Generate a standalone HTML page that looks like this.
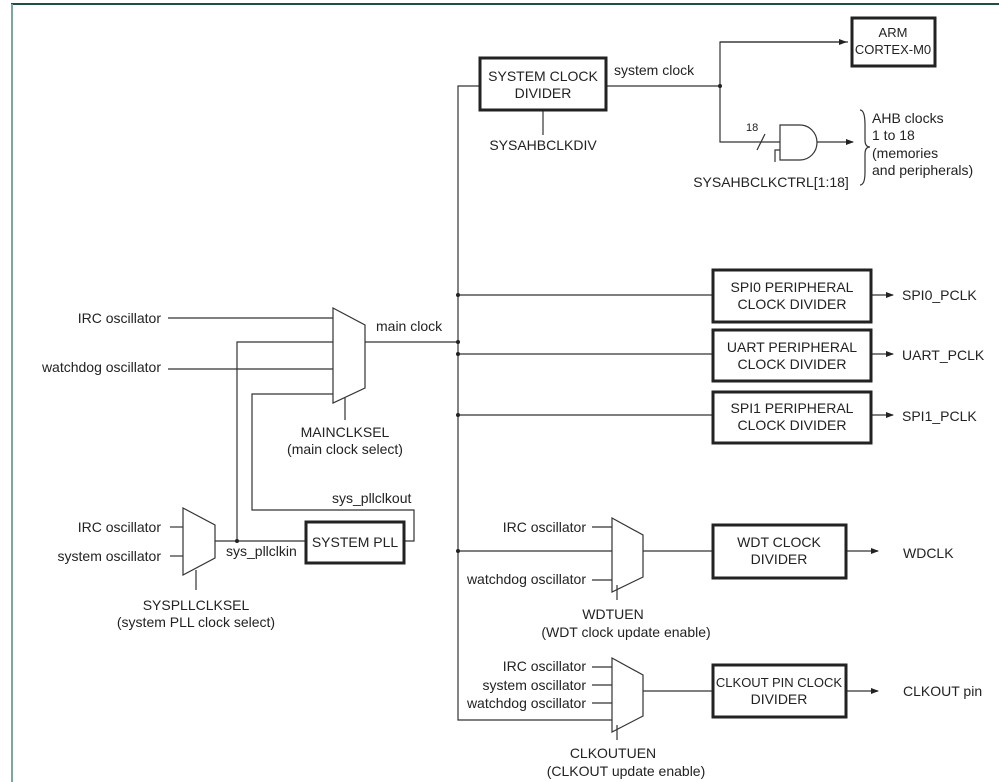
<!DOCTYPE html>
<html><head><meta charset="utf-8"><style>
html,body{margin:0;padding:0;background:#fff}
svg{display:block}
text{font-family:"Liberation Sans",Arial,sans-serif;font-size:14px;fill:#222}
.b{font-size:13px}
</style></head><body>
<svg width="999" height="782" viewBox="0 0 999 782" xmlns="http://www.w3.org/2000/svg">
<defs><marker id="a" markerWidth="8" markerHeight="8" refX="7" refY="4" orient="auto" markerUnits="userSpaceOnUse"><path d="M0,1 L8,4 L0,7 z" fill="#222"/></marker></defs>
<rect x="0" y="0" width="999" height="782" fill="#fff"/>
<line x1="11" y1="4" x2="999" y2="4" stroke="#1f4f3f" stroke-width="2"/>
<line x1="12" y1="4" x2="12" y2="782" stroke="#7aa89a" stroke-width="2"/>
<g stroke="#333" stroke-width="1.2" fill="none">
<polyline points="479,86 458,86 458,720 612,720"/>
<line x1="606" y1="86" x2="720" y2="86"/>
<polyline points="848,42 720,42 720,142 780,142" />
<line x1="720" y1="42" x2="846" y2="42" marker-end="url(#a)"/>
<line x1="757" y1="150" x2="765" y2="134"/>
<polyline points="775,162 775,150 780,150"/>
<path d="M780,125 L800,125 A17,17.5 0 0 1 800,160 L780,160 Z"/>
<line x1="817" y1="142" x2="853" y2="142" marker-end="url(#a)"/>
<path d="M860,110 Q865,110 865,125 L865,140 Q865,147 870,147 Q865,147 865,154 L865,172 Q865,185 860,185"/>
<line x1="543" y1="111" x2="543" y2="135"/>
<line x1="458" y1="295" x2="712" y2="295"/>
<line x1="458" y1="354" x2="712" y2="354"/>
<line x1="458" y1="415" x2="712" y2="415"/>
<line x1="871" y1="295" x2="893" y2="295" marker-end="url(#a)"/>
<line x1="871" y1="354" x2="893" y2="354" marker-end="url(#a)"/>
<line x1="871" y1="415" x2="893" y2="415" marker-end="url(#a)"/>
<path d="M333,308 L365,325 L365,388 L333,403 Z" fill="#fff"/>
<line x1="168" y1="318" x2="333" y2="318"/>
<line x1="168" y1="369" x2="333" y2="369"/>
<polyline points="333,342 237,342 237,541"/>
<polyline points="333,394 252,394 252,510 414,510 414,541 404,541"/>
<line x1="365" y1="342" x2="458" y2="342"/>
<line x1="345" y1="398" x2="345" y2="420"/>
<path d="M183,508 L215,525 L215,558 L183,575 Z" fill="#fff"/>
<line x1="170" y1="527" x2="183" y2="527"/>
<line x1="170" y1="556" x2="183" y2="556"/>
<line x1="215" y1="541" x2="305" y2="541"/>
<line x1="196" y1="570" x2="196" y2="590"/>
<path d="M612,518 L643,535 L643,577 L612,592 Z" fill="#fff"/>
<line x1="458" y1="551" x2="612" y2="551"/>
<line x1="592" y1="527" x2="612" y2="527"/>
<line x1="592" y1="580" x2="612" y2="580"/>
<line x1="643" y1="551" x2="712" y2="551"/>
<line x1="846" y1="551" x2="878" y2="551" marker-end="url(#a)"/>
<line x1="617" y1="585" x2="617" y2="600"/>
<path d="M612,658 L643,675 L643,716 L612,732 Z" fill="#fff"/>
<line x1="592" y1="667" x2="612" y2="667"/>
<line x1="592" y1="685" x2="612" y2="685"/>
<line x1="592" y1="703" x2="612" y2="703"/>
<line x1="643" y1="691" x2="712" y2="691"/>
<line x1="846" y1="691" x2="878" y2="691" marker-end="url(#a)"/>
<line x1="617" y1="725" x2="617" y2="740"/>
</g>
<g stroke="#222" stroke-width="3" fill="#fff">
<rect x="480" y="58" width="126" height="52"/>
<rect x="852" y="18" width="83" height="48"/>
<rect x="713" y="270" width="158" height="52"/>
<rect x="713" y="330" width="158" height="51"/>
<rect x="713" y="392" width="158" height="51"/>
<rect x="306" y="522" width="98" height="41"/>
<rect x="713" y="525" width="133" height="53"/>
<rect x="713" y="665" width="133" height="52"/>
</g>
<g fill="#222">
<circle cx="720" cy="86" r="2"/><circle cx="458" cy="295" r="2"/><circle cx="458" cy="342" r="2"/>
<circle cx="458" cy="354" r="2"/><circle cx="458" cy="415" r="2"/><circle cx="458" cy="551" r="2"/>
<circle cx="237" cy="541" r="2"/>
</g>
<g text-anchor="middle">
<text x="543" y="81">SYSTEM CLOCK</text><text x="543" y="98">DIVIDER</text>
<text class="b" x="893" y="37">ARM</text><text class="b" x="893" y="54">CORTEX-M0</text>
<text x="792" y="292">SPI0 PERIPHERAL</text><text x="792" y="309">CLOCK DIVIDER</text>
<text x="792" y="352">UART PERIPHERAL</text><text x="792" y="369">CLOCK DIVIDER</text>
<text x="792" y="413">SPI1 PERIPHERAL</text><text x="792" y="430">CLOCK DIVIDER</text>
<text x="355" y="547">SYSTEM PLL</text>
<text x="779" y="547">WDT CLOCK</text><text x="779" y="564">DIVIDER</text>
<text class="b" x="779" y="687">CLKOUT PIN CLOCK</text><text x="779" y="704">DIVIDER</text>
<text x="543" y="150">SYSAHBCLKDIV</text>
<text x="771" y="187">SYSAHBCLKCTRL[1:18]</text>
<text x="345" y="437">MAINCLKSEL</text><text x="345" y="454">(main clock select)</text>
<text x="196" y="610">SYSPLLCLKSEL</text><text x="196" y="627">(system PLL clock select)</text>
<text x="613" y="619">WDTUEN</text><text x="626" y="637">(WDT clock update enable)</text>
<text x="613" y="758">CLKOUTUEN</text><text x="626" y="776">(CLKOUT update enable)</text>
</g>
<g text-anchor="end">
<text x="161" y="323">IRC oscillator</text>
<text x="161" y="372">watchdog oscillator</text>
<text x="161" y="532">IRC oscillator</text>
<text x="161" y="561">system oscillator</text>
<text x="586" y="532">IRC oscillator</text>
<text x="586" y="584">watchdog oscillator</text>
<text x="586" y="671">IRC oscillator</text>
<text x="586" y="690">system oscillator</text>
<text x="586" y="708">watchdog oscillator</text>
</g>
<text x="614" y="75">system clock</text>
<text x="746" y="131" style="font-size:11px">18</text>
<text x="872" y="123">AHB clocks</text>
<text x="872" y="140">1 to 18</text>
<text x="872" y="158">(memories</text>
<text x="872" y="175">and peripherals)</text>
<text x="902" y="300">SPI0_PCLK</text>
<text x="902" y="360">UART_PCLK</text>
<text x="902" y="421">SPI1_PCLK</text>
<text x="376" y="331">main clock</text>
<text x="332" y="503">sys_pllclkout</text>
<text x="226" y="556">sys_pllclkin</text>
<text x="903" y="558">WDCLK</text>
<text x="903" y="696">CLKOUT pin</text>
</svg>
</body></html>
